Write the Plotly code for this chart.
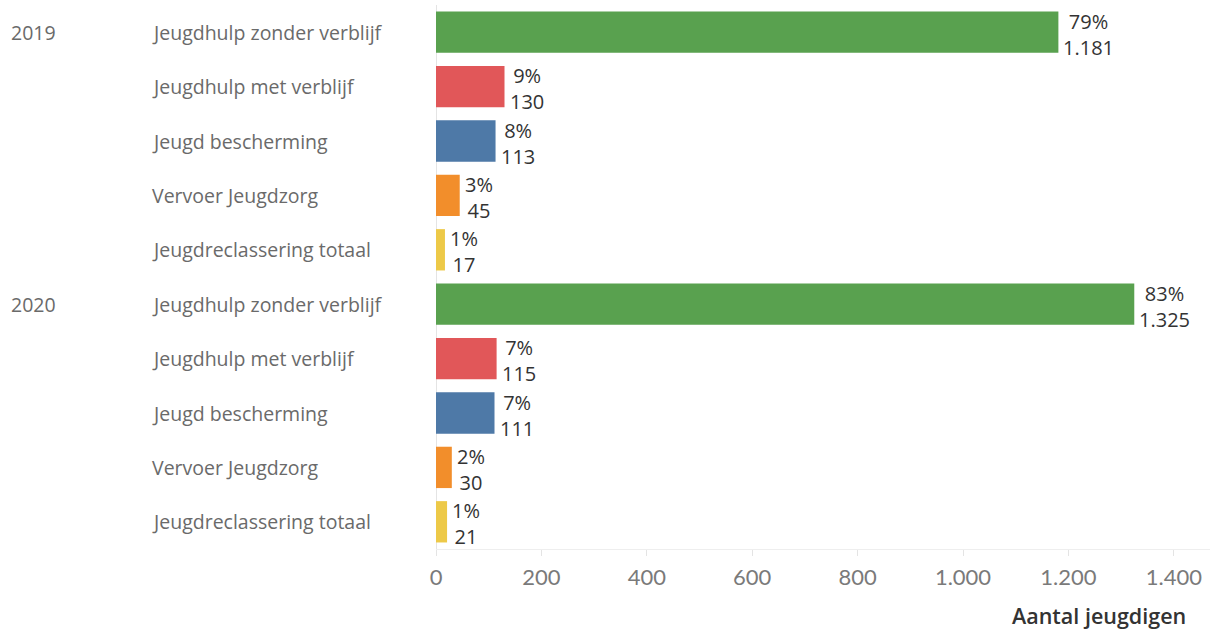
import plotly.graph_objects as go

years = ["2019", "2020"]
categories = ["Jeugdhulp zonder verblijf", "Jeugdhulp met verblijf", "Jeugd bescherming",
              "Vervoer Jeugdzorg", "Jeugdreclassering totaal"]
values_2019 = [1181, 130, 113, 45, 17]
values_2020 = [1325, 115, 111, 30, 21]
pct_2019 = [79, 9, 8, 3, 1]
pct_2020 = [83, 7, 7, 2, 1]
colors = ["#59A14F", "#E15759", "#4E79A7", "#F28E2B", "#EDC948"]
tick_vals = [0, 200, 400, 600, 800, 1000, 1200, 1400]
tick_text = ["0", "200", "400", "600", "800", "1.000", "1.200", "1.400"]

W, H = 1215, 630
L, R, T, B = 436, 5, 5, 81
pw = W - L - R
ph = H - T - B

FONT = "Open Sans"

def fmt(v):
    return f"{v:,}".replace(",", ".")

fig = go.Figure()
annotations = []
row = 0
for yr, vals, pcts in [(years[0], values_2019, pct_2019), (years[1], values_2020, pct_2020)]:
    ys = list(range(row, row + len(categories)))
    fig.add_trace(go.Bar(
        x=vals, y=ys, orientation="h", marker=dict(color=colors, line=dict(width=0)),
        width=0.76, showlegend=False, hoverinfo="x"))
    annotations.append(dict(x=(9 - L) / pw, xref="paper", y=ys[0], yref="y", text=yr,
                            showarrow=False, xanchor="left", yanchor="middle",
                            font=dict(family=FONT, size=19.5, color="#6a6a6a")))
    for i, c in enumerate(categories):
        annotations.append(dict(x=(150 - L) / pw, xref="paper", y=ys[i], yref="y", text=c,
                                showarrow=False, xanchor="left", yanchor="middle",
                                font=dict(family=FONT, size=19.5, color="#6a6a6a")))
        annotations.append(dict(x=vals[i], xref="x", y=ys[i], yref="y", yshift=-2,
                                text=f"{pcts[i]}%<br>{fmt(vals[i])}", align="center",
                                showarrow=False, xanchor="left", yanchor="middle", xshift=3,
                                font=dict(family=FONT, size=20, color="#333333")))
    row += len(categories)

annotations.append(dict(x=(1188 - L) / pw, xref="paper", y=-(615 - (H - B)) / ph, yref="paper",
                        yanchor="middle", xanchor="right", text="Aantal jeugdigen",
                        showarrow=False,
                        font=dict(family=FONT, size=21.5, color="#333333", weight=600)))

fig.update_layout(
    width=W, height=H, margin=dict(l=L, r=R, t=T, b=B),
    plot_bgcolor="white", paper_bgcolor="white",
    bargap=0.24, annotations=annotations,
    xaxis=dict(range=[0, pw / 0.527], tickvals=tick_vals, ticktext=tick_text,
               showgrid=False, zeroline=True, zerolinecolor="#e4e4e4", zerolinewidth=1,
               showline=True, linecolor="#eeeeee", linewidth=1,
               ticks="outside", ticklen=6, tickcolor="#e4e4e4", ticklabelstandoff=3,
               tickfont=dict(family="Lato", size=22, color="#7a7a7a")),
    yaxis=dict(range=[9.5, -0.5], showticklabels=False, showgrid=False, zeroline=False,
               showline=False),
)

fig.write_html("out.html", config={"displayModeBar": False},
               post_script="document.body.style.margin='0';")
